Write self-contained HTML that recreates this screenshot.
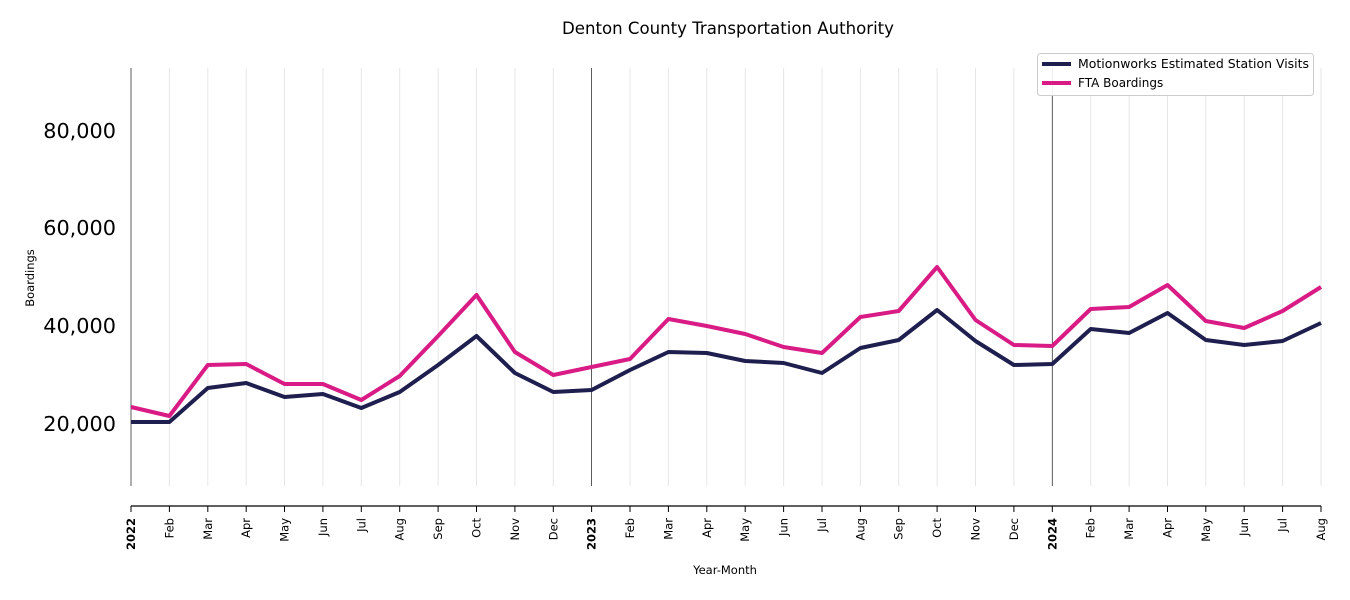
<!DOCTYPE html>
<html><head><meta charset="utf-8"><style>
html,body{margin:0;padding:0;background:#fff;}
svg{display:block;font-family:"DejaVu Sans","Liberation Sans",sans-serif;}
</style></head><body>
<svg width="1350" height="600" viewBox="0 0 1350 600">
<rect width="1350" height="600" fill="#fff"/>
<text x="728" y="34" font-size="16.5" text-anchor="middle" textLength="332" lengthAdjust="spacingAndGlyphs">Denton County Transportation Authority</text>
<g stroke="#e6e6e6" stroke-width="1">
<line x1="169.4" y1="68" x2="169.4" y2="486"/><line x1="207.8" y1="68" x2="207.8" y2="486"/><line x1="246.2" y1="68" x2="246.2" y2="486"/><line x1="284.5" y1="68" x2="284.5" y2="486"/><line x1="322.9" y1="68" x2="322.9" y2="486"/><line x1="361.3" y1="68" x2="361.3" y2="486"/><line x1="399.7" y1="68" x2="399.7" y2="486"/><line x1="438.1" y1="68" x2="438.1" y2="486"/><line x1="476.5" y1="68" x2="476.5" y2="486"/><line x1="514.9" y1="68" x2="514.9" y2="486"/><line x1="553.3" y1="68" x2="553.3" y2="486"/><line x1="630" y1="68" x2="630" y2="486"/><line x1="668.4" y1="68" x2="668.4" y2="486"/><line x1="706.8" y1="68" x2="706.8" y2="486"/><line x1="745.2" y1="68" x2="745.2" y2="486"/><line x1="783.6" y1="68" x2="783.6" y2="486"/><line x1="822" y1="68" x2="822" y2="486"/><line x1="860.4" y1="68" x2="860.4" y2="486"/><line x1="898.7" y1="68" x2="898.7" y2="486"/><line x1="937.1" y1="68" x2="937.1" y2="486"/><line x1="975.5" y1="68" x2="975.5" y2="486"/><line x1="1013.9" y1="68" x2="1013.9" y2="486"/><line x1="1090.7" y1="68" x2="1090.7" y2="486"/><line x1="1129.1" y1="68" x2="1129.1" y2="486"/><line x1="1167.5" y1="68" x2="1167.5" y2="486"/><line x1="1205.8" y1="68" x2="1205.8" y2="486"/><line x1="1244.2" y1="68" x2="1244.2" y2="486"/><line x1="1282.6" y1="68" x2="1282.6" y2="486"/><line x1="1321" y1="68" x2="1321" y2="486"/>
</g>
<g stroke="#333" stroke-width="0.8">
<line x1="131" y1="68" x2="131" y2="486"/><line x1="591.6" y1="68" x2="591.6" y2="486"/><line x1="1052.3" y1="68" x2="1052.3" y2="486"/>
</g>
<g font-size="20.8" text-anchor="end" fill="#000">
<text x="116" y="138">80,000</text><text x="116" y="235">60,000</text><text x="116" y="333">40,000</text><text x="116" y="431">20,000</text>
</g>
<text transform="translate(34,278) rotate(-90)" font-size="11.5" text-anchor="middle">Boardings</text>
<line x1="131" y1="506" x2="1321" y2="506" stroke="#000" stroke-width="1.2"/>
<g stroke="#000" stroke-width="1">
<line x1="131" y1="506" x2="131" y2="512"/><line x1="169.4" y1="506" x2="169.4" y2="512"/><line x1="207.8" y1="506" x2="207.8" y2="512"/><line x1="246.2" y1="506" x2="246.2" y2="512"/><line x1="284.5" y1="506" x2="284.5" y2="512"/><line x1="322.9" y1="506" x2="322.9" y2="512"/><line x1="361.3" y1="506" x2="361.3" y2="512"/><line x1="399.7" y1="506" x2="399.7" y2="512"/><line x1="438.1" y1="506" x2="438.1" y2="512"/><line x1="476.5" y1="506" x2="476.5" y2="512"/><line x1="514.9" y1="506" x2="514.9" y2="512"/><line x1="553.3" y1="506" x2="553.3" y2="512"/><line x1="591.6" y1="506" x2="591.6" y2="512"/><line x1="630" y1="506" x2="630" y2="512"/><line x1="668.4" y1="506" x2="668.4" y2="512"/><line x1="706.8" y1="506" x2="706.8" y2="512"/><line x1="745.2" y1="506" x2="745.2" y2="512"/><line x1="783.6" y1="506" x2="783.6" y2="512"/><line x1="822" y1="506" x2="822" y2="512"/><line x1="860.4" y1="506" x2="860.4" y2="512"/><line x1="898.7" y1="506" x2="898.7" y2="512"/><line x1="937.1" y1="506" x2="937.1" y2="512"/><line x1="975.5" y1="506" x2="975.5" y2="512"/><line x1="1013.9" y1="506" x2="1013.9" y2="512"/><line x1="1052.3" y1="506" x2="1052.3" y2="512"/><line x1="1090.7" y1="506" x2="1090.7" y2="512"/><line x1="1129.1" y1="506" x2="1129.1" y2="512"/><line x1="1167.5" y1="506" x2="1167.5" y2="512"/><line x1="1205.8" y1="506" x2="1205.8" y2="512"/><line x1="1244.2" y1="506" x2="1244.2" y2="512"/><line x1="1282.6" y1="506" x2="1282.6" y2="512"/><line x1="1321" y1="506" x2="1321" y2="512"/>
</g>
<g font-size="11.5" text-anchor="end">
<text transform="translate(135,518) rotate(-90)" font-weight="bold">2022</text>
<text transform="translate(173.4,518) rotate(-90)">Feb</text>
<text transform="translate(211.8,518) rotate(-90)">Mar</text>
<text transform="translate(250.2,518) rotate(-90)">Apr</text>
<text transform="translate(288.5,518) rotate(-90)">May</text>
<text transform="translate(326.9,518) rotate(-90)">Jun</text>
<text transform="translate(365.3,518) rotate(-90)">Jul</text>
<text transform="translate(403.7,518) rotate(-90)">Aug</text>
<text transform="translate(442.1,518) rotate(-90)">Sep</text>
<text transform="translate(480.5,518) rotate(-90)">Oct</text>
<text transform="translate(518.9,518) rotate(-90)">Nov</text>
<text transform="translate(557.3,518) rotate(-90)">Dec</text>
<text transform="translate(595.6,518) rotate(-90)" font-weight="bold">2023</text>
<text transform="translate(634,518) rotate(-90)">Feb</text>
<text transform="translate(672.4,518) rotate(-90)">Mar</text>
<text transform="translate(710.8,518) rotate(-90)">Apr</text>
<text transform="translate(749.2,518) rotate(-90)">May</text>
<text transform="translate(787.6,518) rotate(-90)">Jun</text>
<text transform="translate(826,518) rotate(-90)">Jul</text>
<text transform="translate(864.4,518) rotate(-90)">Aug</text>
<text transform="translate(902.7,518) rotate(-90)">Sep</text>
<text transform="translate(941.1,518) rotate(-90)">Oct</text>
<text transform="translate(979.5,518) rotate(-90)">Nov</text>
<text transform="translate(1017.9,518) rotate(-90)">Dec</text>
<text transform="translate(1056.3,518) rotate(-90)" font-weight="bold">2024</text>
<text transform="translate(1094.7,518) rotate(-90)">Feb</text>
<text transform="translate(1133.1,518) rotate(-90)">Mar</text>
<text transform="translate(1171.5,518) rotate(-90)">Apr</text>
<text transform="translate(1209.8,518) rotate(-90)">May</text>
<text transform="translate(1248.2,518) rotate(-90)">Jun</text>
<text transform="translate(1286.6,518) rotate(-90)">Jul</text>
<text transform="translate(1325,518) rotate(-90)">Aug</text>
</g>
<text x="725" y="574" font-size="11.5" text-anchor="middle">Year-Month</text>
<polyline fill="none" stroke="#1f1f4f" stroke-width="4" stroke-linejoin="round" points="131,422 169.4,422 207.8,388 246.2,383 284.5,397 322.9,394 361.3,408 399.7,392 438.1,365 476.5,336 514.9,373 553.3,392 591.6,390 630,370 668.4,352 706.8,353 745.2,361 783.6,363 822,373 860.4,348 898.7,340 937.1,310 975.5,341 1013.9,365 1052.3,364 1090.7,329 1129.1,333 1167.5,313 1205.8,340 1244.2,345 1282.6,341 1321,323"/>
<polyline fill="none" stroke="#d81b85" stroke-width="4" stroke-linejoin="round" points="131,407 169.4,416 207.8,365 246.2,364 284.5,384 322.9,384 361.3,400 399.7,376 438.1,336 476.5,295 514.9,352 553.3,375 591.6,367 630,359 668.4,319 706.8,326 745.2,334 783.6,347 822,353 860.4,317 898.7,311 937.1,267 975.5,320 1013.9,345 1052.3,346 1090.7,309 1129.1,307 1167.5,285 1205.8,321 1244.2,328 1282.6,311 1321,287"/>
<rect x="1037.5" y="53.5" width="276" height="42" rx="3" fill="#fff" fill-opacity="0.9" stroke="#ccc"/>
<line x1="1042" y1="64" x2="1071" y2="64" stroke="#1f1f4f" stroke-width="4"/>
<line x1="1042" y1="83" x2="1071" y2="83" stroke="#d81b85" stroke-width="4"/>
<text x="1078" y="68" font-size="12" textLength="231" lengthAdjust="spacingAndGlyphs">Motionworks Estimated Station Visits</text>
<text x="1078" y="87" font-size="12">FTA Boardings</text>
</svg>
</body></html>
